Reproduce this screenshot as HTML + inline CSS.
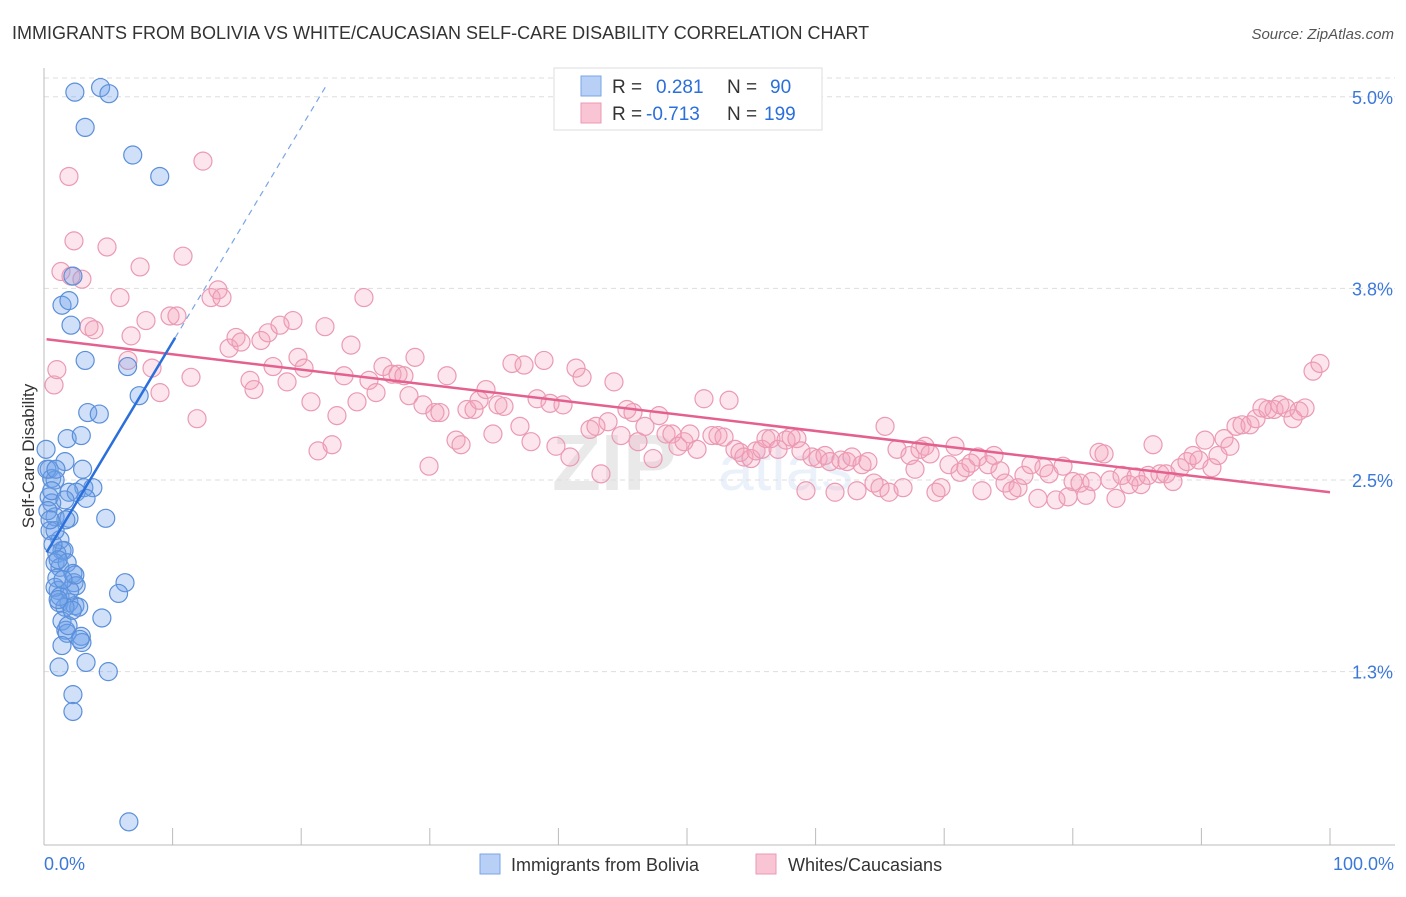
<!DOCTYPE html>
<html><head><meta charset="utf-8"><style>
body{margin:0;background:#fff;font-family:"Liberation Sans",sans-serif}
svg text{font-family:"Liberation Sans",sans-serif}
</style></head><body>
<svg id="chart" width="1406" height="892" viewBox="0 0 1406 892" xmlns="http://www.w3.org/2000/svg">
<text x="12" y="39" font-size="18" fill="#333">IMMIGRANTS FROM BOLIVIA VS WHITE/CAUCASIAN SELF-CARE DISABILITY CORRELATION CHART</text>
<text x="1394" y="39" font-size="15" fill="#555" text-anchor="end" font-style="italic">Source: ZipAtlas.com</text>
<g opacity="0.12"><text x="552" y="490" font-size="80" font-weight="bold" fill="#555">ZIP</text><text x="718" y="490" font-size="64" fill="#5b8fd9">atlas</text></g>
<g id="grid"></g>
<g id="axes"></g>
<g id="pinkPts"></g>
<g id="bluePts"></g>
<g id="trends"></g>
<text transform="translate(34,456) rotate(-90)" font-size="17" fill="#333" text-anchor="middle">Self-Care Disability</text>
<g>
<rect x="554" y="68" width="268" height="62" fill="#fff" stroke="#ddd"/>
<rect x="581" y="76" width="20" height="20" fill="#b8d0f5" stroke="#7aa5e6"/>
<rect x="581" y="103" width="20" height="20" fill="#f9c4d4" stroke="#eb9ab3"/>
<text x="612" y="93" font-size="19" fill="#333">R = </text><text x="656" y="93" font-size="19" fill="#2a6fdb">0.281</text>
<text x="727" y="93" font-size="19" fill="#333">N = </text><text x="770" y="93" font-size="19" fill="#2a6fdb">90</text>
<text x="612" y="120" font-size="19" fill="#333">R = </text><text x="646" y="120" font-size="19" fill="#2a6fdb">-0.713</text>
<text x="727" y="120" font-size="19" fill="#333">N = </text><text x="764" y="120" font-size="19" fill="#2a6fdb">199</text>
</g>
<g>
<rect x="480" y="854" width="20" height="20" fill="#b8d0f5" stroke="#7aa5e6"/>
<text x="511" y="871" font-size="18" fill="#333">Immigrants from Bolivia</text>
<rect x="756" y="854" width="20" height="20" fill="#f9c4d4" stroke="#eb9ab3"/>
<text x="788" y="871" font-size="18" fill="#333">Whites/Caucasians</text>
</g>
</svg>
<script>
const yTicks=[5.0,3.75,2.5,1.25];
const yTickLabels=["5.0%","3.8%","2.5%","1.3%"];
const xTicks=[0,10,20,30,40,50,60,70,80,90,100];
const xEndLabels=["0.0%","100.0%"];
const blueX=[2.4,4.4,5.05,3.2,6.9,9.0,2.25,1.4,1.94,2.1,3.2,6.5,7.4,3.4,4.3,1.8,2.9,1.63,0.4,0.6,0.86,3.0,3.1,3.8,1.94,2.5,3.27,0.4,0.6,0.86,1.94,4.8,1.24,1.4,1.0,1.56,0.86,1.24,1.8,2.25,1.0,2.33,2.5,1.1,1.17,1.94,2.4,2.7,1.63,0.86,6.3,5.8,4.5,1.4,1.7,1.8,2.9,2.95,1.4,1.17,3.27,5.0,2.25,2.25,6.6,0.16,0.23,0.3,0.47,0.7,1.24,2.0,2.8,1.87,1.1,0.86,1.7,2.4,0.6,1.63,1.1,2.2,1.48,0.47,0.93];
const blueY=[5.03,5.06,5.02,4.8,4.62,4.48,3.83,3.64,3.67,3.51,3.28,3.24,3.05,2.94,2.93,2.77,2.79,2.62,2.57,2.51,2.5,2.57,2.45,2.45,2.42,2.42,2.38,2.39,2.35,2.26,2.25,2.25,2.11,2.04,2.02,2.04,1.96,1.93,1.96,1.89,1.86,1.83,1.81,1.78,1.7,1.7,1.68,1.67,1.67,1.8,1.83,1.76,1.6,1.58,1.52,1.5,1.48,1.44,1.42,1.28,1.31,1.25,1.1,0.99,0.27,2.7,2.57,2.3,2.17,2.08,1.74,1.78,1.46,1.55,1.98,2.17,2.24,1.88,2.43,2.37,1.72,1.65,1.85,2.24,2.57];
const pinkX=[0.78,1.0,1.94,2.33,1.32,2.1,2.95,3.5,3.89,4.9,5.91,6.77,6.53,7.47,7.93,8.4,9.02,9.8,10.34,10.81,11.43,12.36,11.9,12.99,13.53,13.84,14.39,14.93,15.32,16.02,16.33,16.87,17.42,17.81,18.35,18.9,19.36,19.75,20.22,20.76,21.85,21.31,22.4,22.78,23.33,23.87,24.34,24.88,25.27,25.82,26.36,27.06,27.53,27.99,28.38,28.85,29.47,29.94,30.4,30.79,31.34,32.04,32.43,32.89,33.44,33.83,34.37,34.91,35.3,35.77,36.39,37.01,37.33,37.87,38.34,38.88,39.35,39.81,40.36,40.9,41.37,41.84,42.46,42.92,43.31,43.86,44.32,44.87,45.33,45.8,46.19,46.73,47.36,47.82,48.37,48.83,49.3,49.77,50.23,50.78,51.32,51.94,52.41,52.88,53.27,53.73,54.12,54.43,54.98,55.37,55.83,56.14,56.53,57.08,57.7,58.09,58.55,58.86,59.25,59.72,60.19,60.73,61.12,61.51,61.97,62.44,62.83,63.22,63.61,64.07,64.54,65.01,65.4,65.71,66.33,66.8,67.34,67.73,68.12,68.51,68.9,69.36,69.75,70.37,70.84,71.23,71.69,72.08,72.63,72.94,73.41,73.87,74.34,74.73,75.27,75.74,76.2,76.75,77.29,77.76,78.15,78.69,79.24,79.63,80.02,80.56,81.03,81.49,82.04,82.43,82.89,83.36,83.83,84.37,84.91,85.3,85.85,86.24,86.78,87.25,87.79,88.34,88.88,89.35,89.81,90.28,90.82,91.29,91.76,92.22,92.69,93.16,93.78,94.25,94.71,95.18,95.65,96.11,96.58,97.12,97.59,98.06,98.68,99.22];
const pinkY=[3.12,3.22,4.48,4.06,3.86,3.83,3.81,3.5,3.48,4.02,3.69,3.44,3.28,3.89,3.54,3.23,3.07,3.57,3.57,3.96,3.17,4.58,2.9,3.69,3.74,3.69,3.36,3.43,3.4,3.15,3.09,3.41,3.46,3.24,3.51,3.14,3.54,3.3,3.23,3.01,3.5,2.69,2.73,2.92,3.18,3.38,3.01,3.69,3.15,3.07,3.24,3.19,3.19,3.18,3.05,3.3,2.99,2.59,2.94,2.94,3.18,2.76,2.73,2.96,2.96,3.02,3.09,2.8,2.99,2.98,3.26,2.85,3.25,2.75,3.03,3.28,3.0,2.72,2.99,2.65,3.23,3.17,2.83,2.85,2.54,2.88,3.14,2.79,2.96,2.94,2.75,2.85,2.64,2.92,2.8,2.8,2.72,2.75,2.8,2.7,3.03,2.79,2.79,2.78,3.02,2.7,2.68,2.65,2.64,2.69,2.7,2.77,2.77,2.7,2.76,2.78,2.77,2.69,2.43,2.65,2.64,2.66,2.62,2.42,2.63,2.62,2.65,2.43,2.6,2.62,2.48,2.45,2.85,2.42,2.7,2.45,2.66,2.57,2.7,2.72,2.67,2.42,2.45,2.6,2.72,2.55,2.58,2.61,2.65,2.43,2.6,2.66,2.56,2.48,2.43,2.45,2.53,2.6,2.38,2.58,2.54,2.37,2.59,2.39,2.49,2.48,2.4,2.49,2.68,2.67,2.5,2.38,2.53,2.47,2.52,2.47,2.53,2.73,2.54,2.54,2.49,2.58,2.62,2.66,2.63,2.76,2.58,2.66,2.77,2.72,2.85,2.86,2.86,2.9,2.97,2.96,2.96,2.99,2.97,2.9,2.95,2.97,3.21,3.26];
const blueTrend=[2.0,0.14];
const pinkTrend=[3.42,-0.01];

const NS="http://www.w3.org/2000/svg";
const X0=44,X1=1330,Y25=480,PXPER=153.3;
const sx=v=>X0+(X1-X0)*v/100;
const sy=v=>Y25-(v-2.5)*PXPER;
function mk(tag,attrs,parent){const e=document.createElementNS(NS,tag);for(const k in attrs)e.setAttribute(k,attrs[k]);parent.appendChild(e);return e;}
const grid=document.getElementById('grid'),axes=document.getElementById('axes');
let gl=mk('line',{x1:44,x2:1395,y1:78,y2:78,stroke:'#ddd','stroke-dasharray':'5,4'},grid);


yTicks.forEach((v,i)=>{
  const l=mk('line',{x1:44,x2:1395,y1:sy(v),y2:sy(v),stroke:'#ddd','stroke-dasharray':'5,4'},grid);
  
  
  const t=mk('text',{x:1393,y:sy(v)+7,'font-size':18,fill:'#3b78d8','text-anchor':'end'},axes);
  t.textContent=yTickLabels[i];
  
  
});
let ax=mk('line',{x1:44,x2:44,y1:68,y2:845,stroke:'#bbb'},axes);


let bx=mk('line',{x1:44,x2:1395,y1:845,y2:845,stroke:'#bbb'},axes);


xTicks.forEach(v=>{
  const l=mk('line',{x1:sx(v),x2:sx(v),y1:828,y2:845,stroke:'#bbb'},axes);
  
  
});
let tl=mk('text',{x:44,y:870,'font-size':18,fill:'#3b78d8'},axes);tl.textContent=xEndLabels[0];


let tr=mk('text',{x:1394,y:870,'font-size':18,fill:'#3b78d8','text-anchor':'end'},axes);tr.textContent=xEndLabels[1];


const pg=document.getElementById('pinkPts');
pinkX.forEach((x,i)=>{
  const c=mk('circle',{cx:sx(x),cy:sy(pinkY[i]),r:9,fill:'rgba(244,160,188,0.28)',stroke:'#eb9ab3','stroke-width':1.2},pg);
  
  
});
const bg=document.getElementById('bluePts');
blueX.forEach((x,i)=>{
  const c=mk('circle',{cx:sx(x),cy:sy(blueY[i]),r:9,fill:'rgba(110,160,235,0.33)',stroke:'#5b8fd9','stroke-width':1.2},bg);
  
  
});
const tg=document.getElementById('trends');
const f=(t,x)=>t[0]+t[1]*x;
let p=mk('line',{x1:sx(0.2),y1:sy(f(pinkTrend,0.2)),x2:sx(100),y2:sy(f(pinkTrend,100)),stroke:'#e4608f','stroke-width':2.5},tg);


let b=mk('line',{x1:sx(0.2),y1:sy(f(blueTrend,0.2)),x2:sx(10.2),y2:sy(f(blueTrend,10.2)),stroke:'#2a6fdb','stroke-width':2.5},tg);


let bd=mk('line',{x1:sx(10.2),y1:sy(f(blueTrend,10.2)),x2:sx(22),y2:sy(f(blueTrend,22)),stroke:'#7aa5e6','stroke-width':1.2,'stroke-dasharray':'6,5'},tg);


</script>
</body></html>
